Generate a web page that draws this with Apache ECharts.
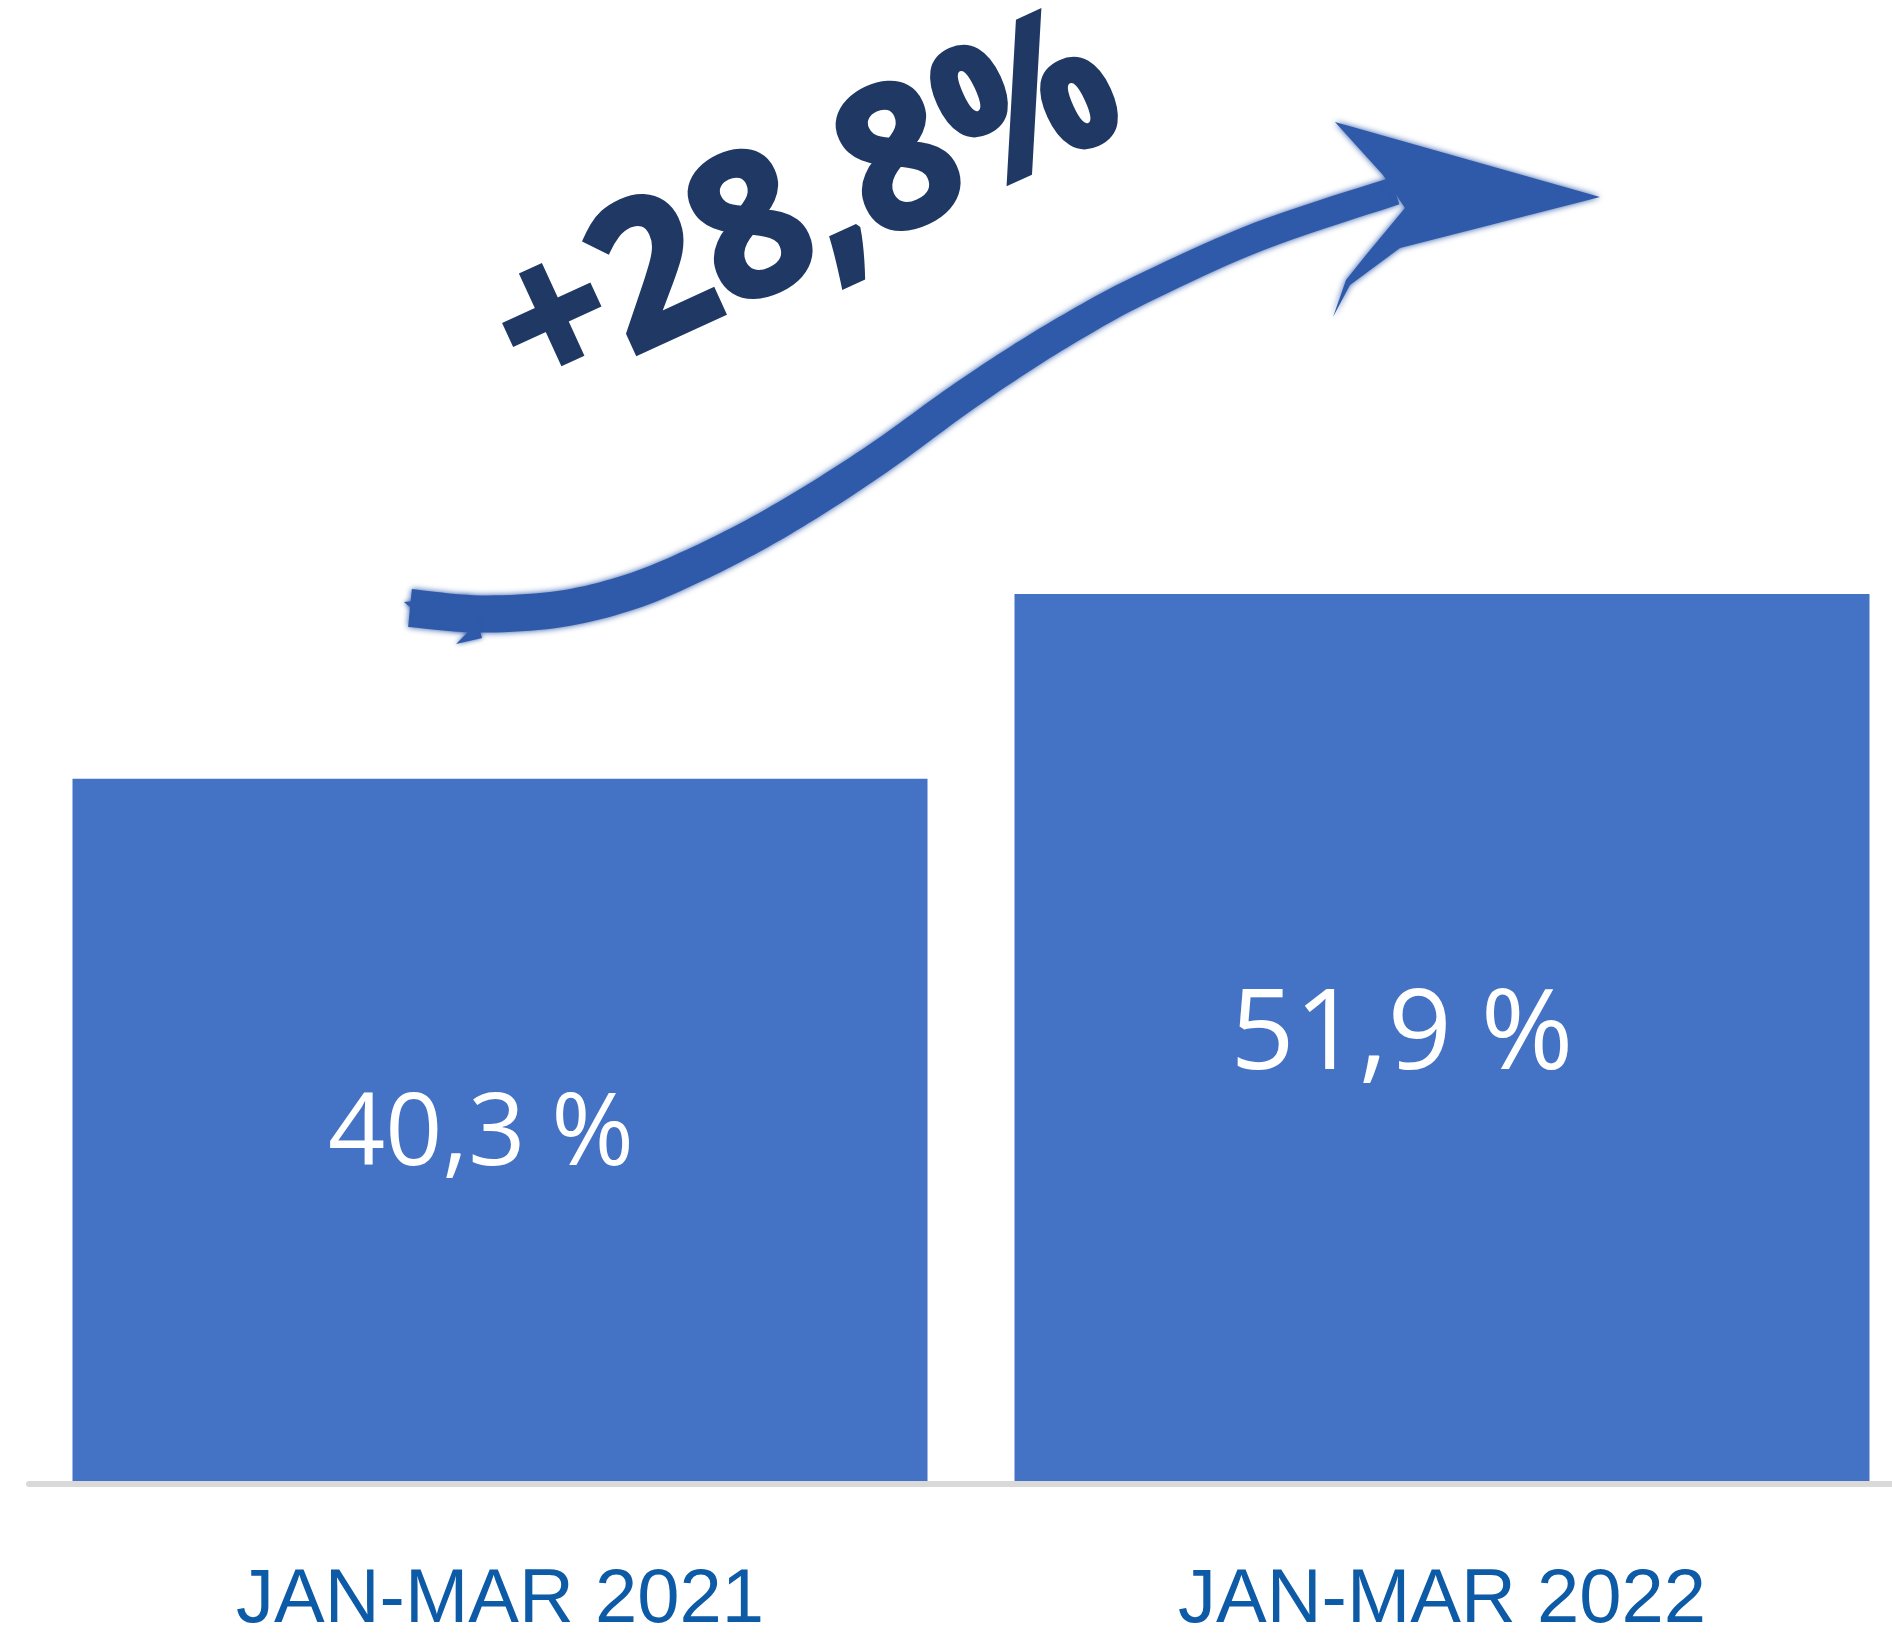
<!DOCTYPE html>
<html>
<head>
<meta charset="utf-8">
<script src="https://cdn.jsdelivr.net/npm/echarts@6/dist/echarts.min.js"></script>
<style>
    html, body { margin: 0; padding: 0; background: #fff; }
    #chart { width: 1892px; height: 1635px; }
</style>
</head>
<body>
<div id="chart"></div>
<script>
    // data
    const categories = ['JAN-MAR 2021', 'JAN-MAR 2022']
    const values = [40.3, 51.9]
    const growthText = '+28,8%'

    // per-bar label tweaks (font size, offset)
    const labelSizes = [100, 112]
    const labelOffsets = [[-19, 5], [-40, -2]]

    const barColor = '#4472c4'
    const arrowColor = '#2f5aa9'

    const chart = echarts.init(document.getElementById('chart'))

    const fmt = v => String(v).replace('.', ',') + ' %'

    // decorative arrow (drawn freehand in the original)
    const arrowPath = [[410, 608], [480, 614], [560, 609], [630, 592], [693, 566], [760, 532], [827, 492],
        [890, 450], [953, 404], [1012, 364], [1072, 327], [1140, 290], [1260, 236], [1395, 191]]
    const arrowHead = [[1335, 122], [1600, 197], [1400, 248], [1350, 285], [1333, 317], [1346, 280],
        [1366, 255], [1405, 208], [1383, 175]]
    const arrowTail = [[404, 602], [470, 596], [482, 638], [456, 644], [468, 632], [430, 624]]

    // smooth the centre line and turn it into a tapered band
    function catmull(pts, steps) {
        const out = []
        for (let i = 0; i < pts.length - 1; i++) {
            const p0 = pts[Math.max(i - 1, 0)], p1 = pts[i], p2 = pts[i + 1], p3 = pts[Math.min(i + 2, pts.length - 1)]
            for (let s = 0; s < steps; s++) {
                const t = s / steps, t2 = t * t, t3 = t2 * t
                const f = k => 0.5 * ((2 * p1[k]) + (-p0[k] + p2[k]) * t + (2 * p0[k] - 5 * p1[k] + 4 * p2[k] - p3[k]) * t2 + (-p0[k] + 3 * p1[k] - 3 * p2[k] + p3[k]) * t3)
                out.push([f(0), f(1)])
            }
        }
        out.push(pts[pts.length - 1])
        return out
    }

    function band(pts, w0, w1) {
        const left = [], right = []
        const n = pts.length
        pts.forEach((p, i) => {
            const a = pts[Math.max(i - 1, 0)], b = pts[Math.min(i + 1, n - 1)]
            let dx = b[0] - a[0], dy = b[1] - a[1]
            const len = Math.hypot(dx, dy) || 1
            dx /= len; dy /= len
            const t = i / (n - 1)
            const w = (w0 + (w1 - w0) * t) / 2
            left.push([p[0] + dy * w, p[1] - dx * w])
            right.push([p[0] - dy * w, p[1] + dx * w])
        })
        return left.concat(right.reverse())
    }

    const shaft = band(catmull(arrowPath, 10), 38, 28)

    const option = {
        animation: false,
        grid: {
            left: 29,
            right: -21,
            top: 465,
            bottom: 151,
            outerBoundsMode: 'none'
        },
        xAxis: {
            type: 'category',
            data: categories,
            z: 3,
            axisLine: { onZero: false, lineStyle: { color: '#d9d9d9', width: 6 } },
            axisTick: { show: false },
            axisLabel: {
                margin: 79,
                color: '#0d5aa7',
                fontSize: 76,
                fontFamily: 'Liberation Sans'
            }
        },
        yAxis: {
            type: 'value',
            min: -4,
            max: 60,
            startValue: -4,
            show: false,
            splitLine: { show: false }
        },
        series: [{
            type: 'bar',
            barWidth: 855,
            itemStyle: { color: barColor },
            label: {
                show: true,
                position: 'inside',
                color: '#fff',
                fontFamily: 'Open Sans',
                formatter: p => fmt(p.value)
            },
            data: values.map((v, i) => ({
                value: v,
                label: { fontSize: labelSizes[i], offset: labelOffsets[i] }
            }))
        }],
        graphic: [
            {
                type: 'polygon',
                z: 10,
                shape: { points: shaft },
                style: { fill: arrowColor, shadowBlur: 6, shadowColor: arrowColor }
            },
            {
                type: 'polygon',
                z: 10,
                shape: { points: arrowHead },
                style: { fill: arrowColor, shadowBlur: 6, shadowColor: arrowColor }
            },
            {
                type: 'polygon',
                z: 10,
                shape: { points: arrowTail },
                style: { fill: arrowColor, shadowBlur: 5, shadowColor: arrowColor }
            },
            {
                type: 'text',
                z: 11,
                x: 808,
                y: 212,
                rotation: 0.43,
                scaleY: 1.05,
                style: {
                    text: growthText,
                    fontSize: 190,
                    fontWeight: 'bold',
                    fontFamily: 'Open Sans',
                    fill: '#203864',
                    stroke: '#203864',
                    lineWidth: 5,
                    align: 'center',
                    verticalAlign: 'middle',
                    textAlign: 'center',
                    textVerticalAlign: 'middle',
                    shadowColor: 'rgba(0,0,0,0.35)',
                    shadowBlur: 5,
                    shadowOffsetX: 4,
                    shadowOffsetY: 4
                }
            }
        ]
    }

    chart.setOption(option)
</script>
</body>
</html>
